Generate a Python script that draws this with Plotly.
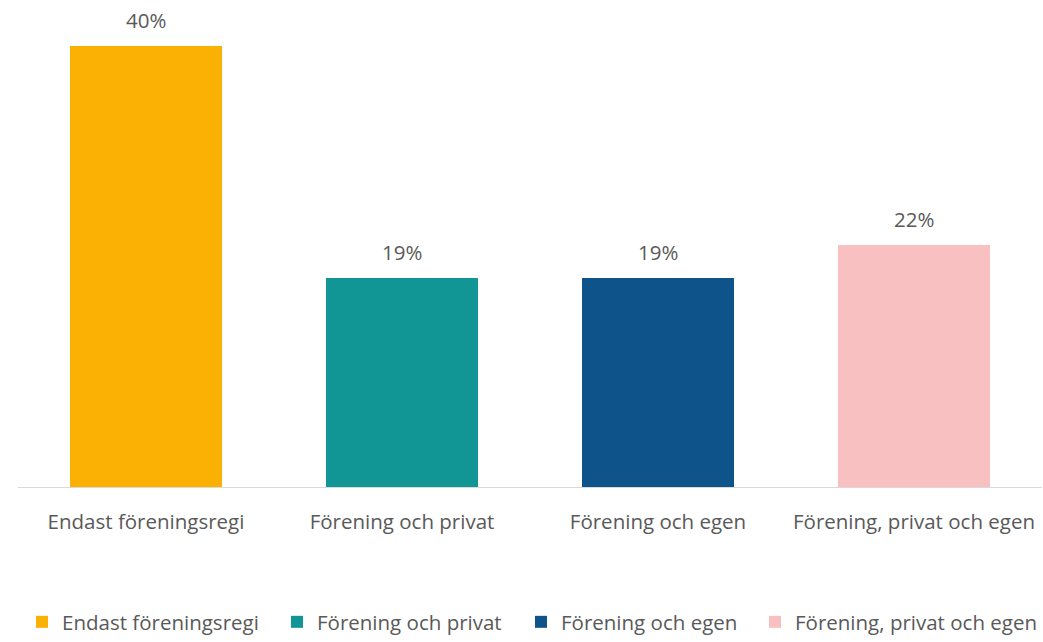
import plotly.graph_objects as go

categories = ["Endast föreningsregi", "Förening och privat", "Förening och egen", "Förening, privat och egen"]
values = [40, 19, 19, 22]
colors = ["#FBB004", "#119595", "#0E538A", "#F9C0C1"]

FONT = "Open Sans"
TEXT_COLOR = "#595959"
SIZE = 20.5
W, H = 1043, 642

# left edge (px) of each legend entry along the bottom row
legend_left_px = [22, 277, 521, 755]

fig = go.Figure()
for i, (cat, val, col) in enumerate(zip(categories, values, colors)):
    fig.add_trace(go.Bar(
        x=[cat], y=[val], name=cat,
        marker=dict(color=col, line=dict(width=0)),
        width=0.59,
        hoverinfo="skip",
        legend="legend" if i == 0 else f"legend{i + 1}",
    ))

# value labels above each bar
for cat, val in zip(categories, values):
    fig.add_annotation(
        x=cat, y=val, text=f"{val}%", showarrow=False,
        yanchor="bottom", yshift=10,
        font=dict(family=FONT, size=SIZE, color=TEXT_COLOR),
    )

legend_style = dict(
    orientation="h",
    xref="container", yref="container",
    xanchor="left", y=0.0, yanchor="bottom",
    font=dict(family=FONT, size=SIZE, color=TEXT_COLOR),
    itemwidth=30,
    bgcolor="rgba(0,0,0,0)",
)
legends = {}
for i, px in enumerate(legend_left_px):
    key = "legend" if i == 0 else f"legend{i + 1}"
    legends[key] = dict(legend_style, x=px / W)

fig.update_layout(
    width=W, height=H,
    margin=dict(l=18, r=1, t=20, b=155),
    paper_bgcolor="white", plot_bgcolor="white",
    barmode="overlay",
    bargap=0,
    font=dict(family=FONT, size=SIZE, color=TEXT_COLOR),
    xaxis=dict(
        categoryorder="array", categoryarray=categories,
        showline=True, linecolor="#D9D9D9", linewidth=1,
        ticks="", showgrid=False, zeroline=False,
        ticklabelstandoff=16,
        tickfont=dict(family=FONT, size=SIZE, color=TEXT_COLOR),
        fixedrange=True,
    ),
    yaxis=dict(range=[0, 42.4], visible=False, fixedrange=True),
    showlegend=True,
    **legends,
)

fig.write_html("out.html")
